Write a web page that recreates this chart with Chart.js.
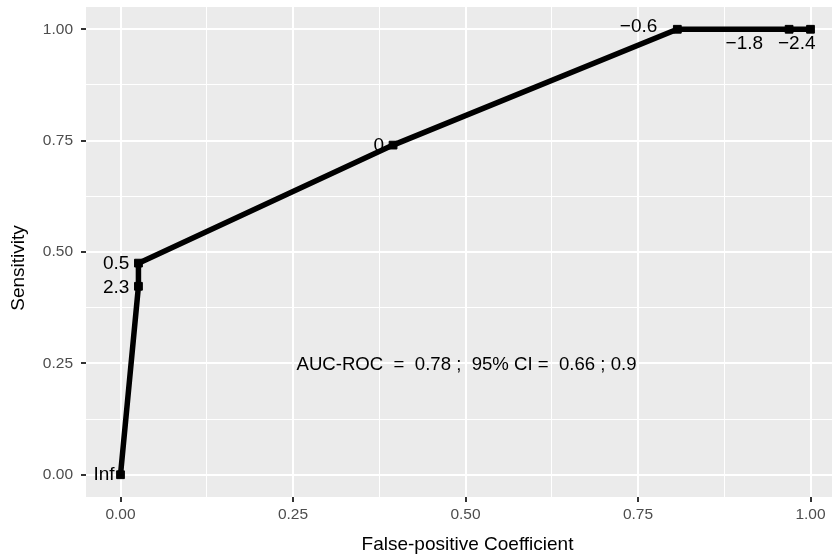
<!DOCTYPE html>
<html lang="en">
<head>
  <meta charset="UTF-8">
  <title>ROC</title>
  <style>
    html, body { margin: 0; padding: 0; background: #fff; overflow: hidden; }
    canvas { display: block; }
  </style>
</head>
<body>
  <canvas id="grafico" width="832" height="556"></canvas>

  <script src="https://cdn.jsdelivr.net/npm/chart.js"></script>

  <script>
    // ROC points (false-positive rate, sensitivity) and their cut-off labels
    const fpr = [0, 0.026, 0.026, 0.395, 0.807, 0.969, 1];
    const tpr = [0, 0.423, 0.475, 0.740, 1, 1, 1];
    const cutoffs = ["Inf", "2.3", "0.5", "0", "\u22120.6", "\u22121.8", "\u22122.4"];
    // pixel nudge of each cut-off label (label is right aligned)
    const labelNudge = [[-6, 0], [-9, 1], [-9, 1], [-9, 1], [-20, -3], [-26, 14], [5, 14]];

    const majorTicks = [0, 0.25, 0.5, 0.75, 1];
    const minorTicks = [0.125, 0.375, 0.625, 0.875];

    const aucText = "AUC-ROC  =  0.78 ;  95% CI =  0.66 ; 0.9";
    const aucPos = [0.5, 0.25];
    const xTitle = "False-positive Coefficient";
    const yTitle = "Sensitivity";

    const FONT = "'Liberation Sans', Arial, Helvetica, sans-serif";
    const isMajor = v => majorTicks.includes(v);

    const puntos = fpr.map((x, i) => ({ x: x, y: tpr[i] }));

    function allTicks(axis) {
      axis.ticks = majorTicks.concat(minorTicks).map(v => ({ value: v }));
    }

    const gridOpts = {
      color: "#ffffff",
      lineWidth: c => (c.tick && isMajor(c.tick.value) ? 2 : 1),
      tickColor: c => (c.tick && isMajor(c.tick.value) ? "#333333" : "rgba(0,0,0,0)"),
      tickWidth: 2,
      tickLength: 5,
      drawTicks: true
    };

    const fondo = {
      id: "fondo",
      beforeDraw(chart) {
        const { ctx, chartArea: a } = chart;
        ctx.save();
        ctx.fillStyle = "#EBEBEB";
        ctx.fillRect(a.left, a.top, a.right - a.left, a.bottom - a.top);
        ctx.restore();
      },
      afterDatasetsDraw(chart) {
        const { ctx } = chart;
        const sx = chart.scales.x, sy = chart.scales.y;
        ctx.save();
        ctx.fillStyle = "#000000";
        ctx.font = "19px " + FONT;
        ctx.textBaseline = "middle";
        ctx.textAlign = "right";
        cutoffs.forEach((t, i) => {
          const px = sx.getPixelForValue(fpr[i]) + labelNudge[i][0];
          const py = sy.getPixelForValue(tpr[i]) + labelNudge[i][1];
          ctx.fillText(t, px, py);
        });
        ctx.textAlign = "center";
        ctx.font = "18.6px " + FONT;
        ctx.fillText(aucText, sx.getPixelForValue(aucPos[0]) + 1, sy.getPixelForValue(aucPos[1]) + 1.5);
        ctx.restore();
      },
      afterDraw(chart) {
        const { ctx } = chart;
        ctx.save();
        ctx.fillStyle = "#000000";
        ctx.font = "19px " + FONT;
        ctx.textAlign = "center";
        ctx.textBaseline = "middle";
        ctx.fillText(xTitle, 467.5, 545);
        ctx.translate(19, 268);
        ctx.rotate(-Math.PI / 2);
        ctx.fillText(yTitle, 0, 0);
        ctx.restore();
      }
    };

    new Chart(document.getElementById("grafico"), {
      type: "scatter",
      data: {
        datasets: [{
          data: puntos,
          showLine: true,
          borderColor: "#000000",
          backgroundColor: "#000000",
          borderWidth: 5.5,
          tension: 0,
          pointStyle: "rect",
          pointRadius: 5.5,
          pointBorderWidth: 1,
          pointBackgroundColor: "#000000",
          pointBorderColor: "#000000",
          clip: false
        }]
      },
      options: {
        responsive: false,
        devicePixelRatio: 1,
        animation: false,
        layout: { autoPadding: false, padding: { top: 7, right: 0, bottom: 0, left: 0 } },
        plugins: { legend: { display: false }, tooltip: { enabled: false } },
        scales: {
          x: {
            type: "linear",
            min: -0.05,
            max: -0.05 + 746 / 690,
            afterBuildTicks: allTicks,
            afterFit: s => { s.height = 59; s.paddingLeft = 0; s.paddingRight = 0; },
            border: { display: false },
            grid: gridOpts,
            ticks: {
              autoSkip: false,
              maxRotation: 0,
              padding: 3,
              color: "#4D4D4D",
              font: { family: FONT, size: 15.5 },
              callback: v => (isMajor(v) ? v.toFixed(2) : "")
            }
          },
          y: {
            type: "linear",
            min: -0.05,
            max: 1.05,
            afterBuildTicks: allTicks,
            afterFit: s => { s.width = 86; s.paddingTop = 0; s.paddingBottom = 0; },
            border: { display: false },
            grid: gridOpts,
            ticks: {
              autoSkip: false,
              padding: 8,
              color: "#4D4D4D",
              font: { family: FONT, size: 15.5 },
              callback: v => (isMajor(v) ? v.toFixed(2) : "")
            }
          }
        }
      },
      plugins: [fondo]
    });
  </script>
</body>
</html>
